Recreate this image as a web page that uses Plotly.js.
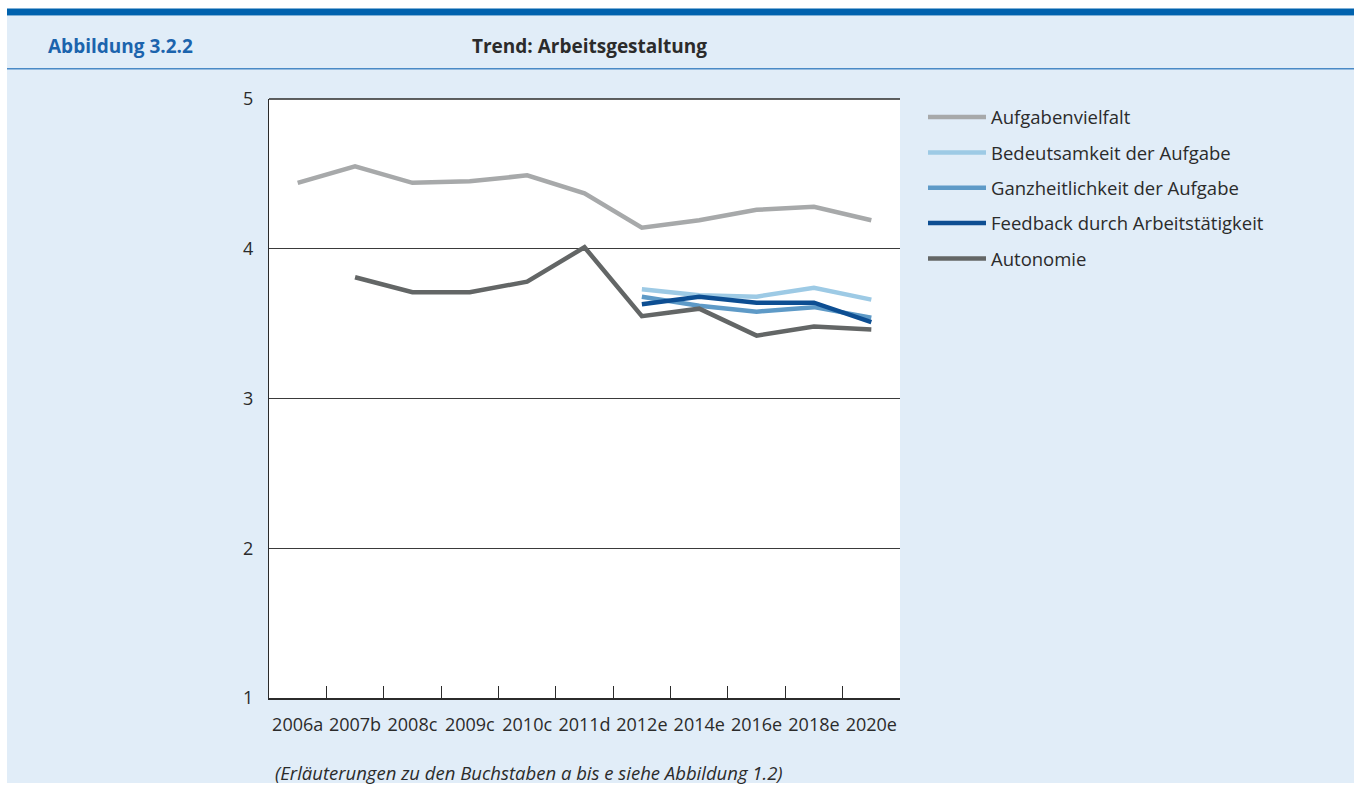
<!DOCTYPE html>
<html>
<head>
<meta charset="utf-8">
<script src="https://cdn.plot.ly/plotly-3.0.1.min.js"></script>
<style>
html,body{margin:0;padding:0;background:#ffffff;}
#chart{width:1357px;height:792px;}
</style>
</head>
<body>
<div id="chart"></div>
<script>
var categories = ["2006a","2007b","2008c","2009c","2010c","2011d","2012e","2014e","2016e","2018e","2020e"];
var seriesNames = ["Aufgabenvielfalt","Bedeutsamkeit der Aufgabe","Ganzheitlichkeit der Aufgabe","Feedback durch Arbeitstätigkeit","Autonomie"];
var aufgabenvielfalt = [4.44, 4.55, 4.44, 4.45, 4.49, 4.37, 4.14, 4.19, 4.26, 4.28, 4.19];
var bedeutsamkeit    = [null, null, null, null, null, null, 3.73, 3.69, 3.68, 3.74, 3.66];
var ganzheitlichkeit = [null, null, null, null, null, null, 3.68, 3.62, 3.58, 3.61, 3.54];
var feedback         = [null, null, null, null, null, null, 3.63, 3.68, 3.64, 3.64, 3.51];
var autonomie        = [null, 3.81, 3.71, 3.71, 3.78, 4.01, 3.55, 3.60, 3.42, 3.48, 3.46];
var yTicks = [1, 2, 3, 4, 5];

var colors = ["#a7a9aa", "#9dcae5", "#5e9ac7", "#0d4e92", "#636666"];
var values = [aufgabenvielfalt, bedeutsamkeit, ganzheitlichkeit, feedback, autonomie];

var FONT = "Open Sans, Noto Sans, sans-serif";
var L = 269, R = 900, T = 99, B = 698;
var W = 1357, H = 792;
function px(x){ return (x - L) / (R - L); }
function py(y){ return (B - y) / (B - T); }

var traces = values.map(function(v, i){
  return {
    type: "scatter",
    mode: "lines",
    x: categories,
    y: v,
    name: seriesNames[i],
    legendgroup: "g" + i,
    line: {color: colors[i], width: 4.5},
    connectgaps: false,
    hoverinfo: "x+y+name"
  };
});

var layout = {
  width: W, height: H,
  paper_bgcolor: "#ffffff",
  plot_bgcolor: "#ffffff",
  margin: {l: L, r: W - R, t: T, b: H - B, pad: 0},
  font: {family: FONT, size: 18, color: "#2b2b2b"},
  showlegend: true,
  legend: {
    x: px(923), y: py(98.5), xanchor: "left", yanchor: "top",
    bgcolor: "rgba(0,0,0,0)",
    font: {family: FONT, size: 18.5, color: "#2b2b2b"},
    itemwidth: 58,
    tracegroupgap: 8.3
  },
  title: {
    text: "<b>Trend: Arbeitsgestaltung</b>",
    x: 589.5 / W, xanchor: "center", xref: "container",
    y: 1 - 46 / H, yanchor: "middle", yref: "container",
    font: {family: FONT, size: 19, color: "#2b2b2b"}
  },
  xaxis: {
    type: "category",
    range: [-0.5, categories.length - 0.5],
    tickson: "boundaries",
    ticks: "inside",
    ticklen: 12,
    tickwidth: 1,
    tickcolor: "#2b2b2b",
    tickangle: 0,
    showline: true,
    linecolor: "#2b2b2b",
    linewidth: 1.5,
    showgrid: false,
    tickfont: {family: FONT, size: 18, color: "#2b2b2b"},
    ticklabelstandoff: 10,
    fixedrange: true
  },
  yaxis: {
    range: [1, 5],
    tickvals: yTicks,
    ticktext: yTicks.map(String),
    ticks: "",
    showline: true,
    linecolor: "#2b2b2b",
    linewidth: 1.2,
    showgrid: true,
    gridcolor: "#3a3a3a",
    gridwidth: 1,
    zeroline: false,
    tickfont: {family: FONT, size: 18, color: "#2b2b2b"},
    ticklabelstandoff: 11,
    fixedrange: true
  },
  shapes: [
    {type: "rect", xref: "paper", yref: "paper", layer: "below",
     x0: px(7), x1: px(1354), y0: py(783), y1: py(16),
     fillcolor: "#e1edf8", line: {width: 0}},
    {type: "rect", xref: "paper", yref: "paper", layer: "below",
     x0: px(7), x1: px(1354), y0: py(15.5), y1: py(8.5),
     fillcolor: "#0062ae", line: {width: 0}},
    {type: "line", xref: "paper", yref: "paper", layer: "below",
     x0: px(7), x1: px(1354), y0: py(68.7), y1: py(68.7),
     line: {color: "#4a8ac6", width: 1.5}},
    {type: "rect", xref: "paper", yref: "paper", layer: "below",
     x0: 0, x1: 1, y0: 0, y1: 1,
     fillcolor: "#ffffff", line: {width: 0}},
    {type: "line", xref: "paper", yref: "paper", layer: "above",
     x0: 0, x1: 1, y0: 1, y1: 1,
     line: {color: "#2b2b2b", width: 1.5}}
  ],
  annotations: [
    {text: "<b>Abbildung 3.2.2</b>", xref: "paper", yref: "paper",
     x: px(46), y: py(46), xanchor: "left", yanchor: "middle", showarrow: false,
     font: {family: FONT, size: 19, color: "#1c64ad"}},
    {text: "<i>(Erläuterungen zu den Buchstaben a bis e siehe Abbildung 1.2)</i>", xref: "paper", yref: "paper",
     x: px(273), y: py(772), xanchor: "left", yanchor: "middle", showarrow: false,
     font: {family: FONT, size: 18.5, color: "#2b2b2b"}}
  ]
};

Plotly.newPlot("chart", traces, layout, {displayModeBar: false, staticPlot: false});
</script>
</body>
</html>
